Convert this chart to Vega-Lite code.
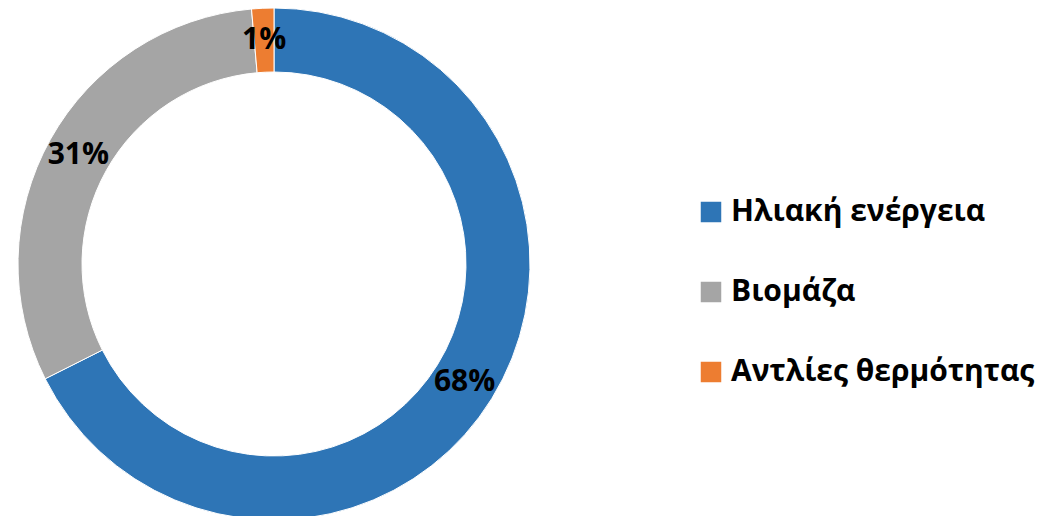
{
  "$schema": "https://vega.github.io/schema/vega-lite/v6.json",
  "autosize": "none",
  "padding": {"left": 0, "top": 0, "right": 493, "bottom": 0},
  "width": 548,
  "height": 528,
  "background": "white",
  "data": {"values": [
    {"source": "Ηλιακή ενέργεια", "share": 67.6, "label": "68%", "order": 1},
    {"source": "Βιομάζα", "share": 31.0, "label": "31%", "order": 2},
    {"source": "Αντλίες θερμότητας", "share": 1.4, "label": "1%", "order": 3}
  ]},
  "encoding": {
    "theta": {"field": "share", "type": "quantitative", "stack": true},
    "order": {"field": "order", "type": "quantitative"}
  },
  "layer": [
    {
      "mark": {"type": "arc", "outerRadius": 256, "innerRadius": 192, "stroke": "white", "strokeWidth": 1},
      "encoding": {
        "color": {
          "field": "source", "type": "nominal",
          "sort": ["Ηλιακή ενέργεια", "Βιομάζα", "Αντλίες θερμότητας"],
          "scale": {"domain": ["Ηλιακή ενέργεια", "Βιομάζα", "Αντλίες θερμότητας"], "range": ["#2E75B6", "#A5A5A5", "#ED7D31"]},
          "legend": {
            "title": null,
            "orient": "none",
            "legendX": 696,
            "legendY": 197,
            "symbolType": "square",
            "symbolSize": 420,
            "symbolStrokeWidth": 0,
            "labelFont": "Open Sans",
            "labelFontWeight": "bold",
            "labelFontSize": 30,
            "labelColor": "#000000",
            "labelOffset": 5,
            "labelLimit": 400,
            "rowPadding": 50
          }
        }
      }
    },
    {
      "mark": {"type": "text", "radius": 224, "font": "Open Sans", "fontWeight": "bold", "fontSize": 30, "color": "#000000"},
      "encoding": {"text": {"field": "label", "type": "nominal"}}
    }
  ]
}
